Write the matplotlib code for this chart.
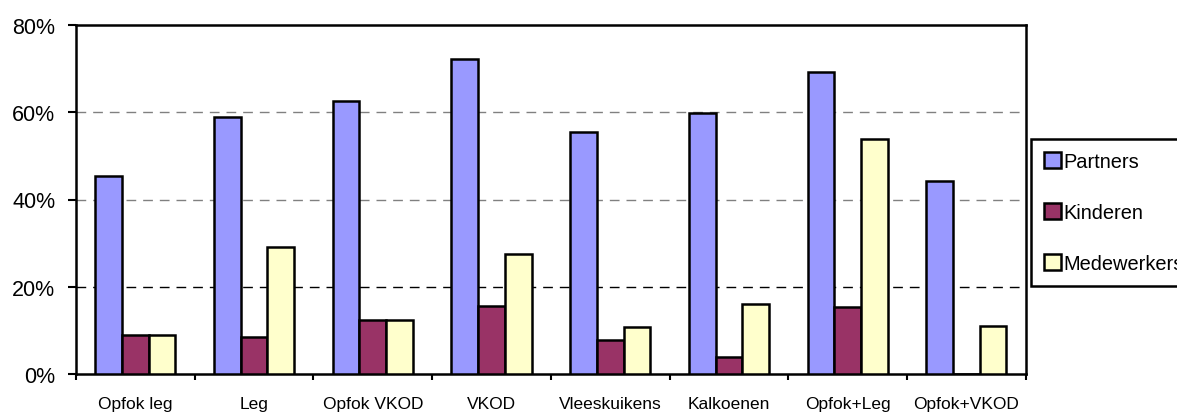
import numpy as np
import matplotlib
matplotlib.use("Agg")
import matplotlib.pyplot as plt
from matplotlib.ticker import FixedLocator, FuncFormatter

categories = ["Opfok leg", "Leg", "Opfok VKOD", "VKOD", "Vleeskuikens",
              "Kalkoenen", "Opfok+Leg", "Opfok+VKOD"]
partners = [45.5, 59.0, 62.5, 72.2, 55.4, 59.9, 69.3, 44.3]
kinderen = [9.0, 8.4, 12.4, 15.5, 7.7, 3.9, 15.4, 0.0]
medewerkers = [9.0, 29.1, 12.4, 27.6, 10.8, 16.1, 53.8, 11.0]

series = [
    ("Partners", partners, "#9999FF"),
    ("Kinderen", kinderen, "#993366"),
    ("Medewerkers", medewerkers, "#FFFFCC"),
]

plt.rcParams["font.family"] = ["Liberation Sans", "DejaVu Sans"]

fig = plt.figure(figsize=(11.77, 4.14), dpi=100)
ax = fig.add_axes([76 / 1177, 39 / 414, (1025.7 - 76) / 1177, (375 - 26) / 414])

x = np.arange(len(categories))
w = 0.225
for k, (label, vals, color) in enumerate(series):
    ax.bar(x + (k - 1) * w, vals, width=w, color=color, edgecolor="black",
           linewidth=1.8, label=label, zorder=3)

ax.set_xlim(-0.5, len(categories) - 0.5)
ax.set_ylim(0, 80)

ax.yaxis.set_major_locator(FixedLocator([0, 20, 40, 60, 80]))
ax.yaxis.set_major_formatter(FuncFormatter(lambda v, _: f"{v:.0f}%"))
ax.tick_params(axis="y", labelsize=15.5, length=6, width=1.5, pad=9)

ax.set_xticks(x)
ax.set_xticklabels(categories)
ax.set_xticks(np.arange(len(categories) + 1) - 0.5, minor=True)
ax.tick_params(axis="x", which="major", length=0, labelsize=12.5, pad=16)
ax.tick_params(axis="x", which="minor", length=4, width=1.5)

for yv, col in [(20, "black"), (40, "#808080"), (60, "#808080")]:
    ax.axhline(yv, color=col, linestyle=(0, (7, 5)), linewidth=1.0, zorder=1)

for s in ax.spines.values():
    s.set_linewidth(1.8)
    s.set_color("black")

leg = ax.legend(loc="upper left", bbox_to_anchor=(1030.7 / 1177, 1 - 140 / 414),
                bbox_transform=fig.transFigure, borderaxespad=0,
                fontsize=14.4, frameon=True, fancybox=False, edgecolor="black",
                framealpha=1, handlelength=0.85, handleheight=0.85,
                handletextpad=0.15, labelspacing=1.6, borderpad=0.65)
leg.get_frame().set_linewidth(1.8)

fig.savefig("out.png", dpi=100)
